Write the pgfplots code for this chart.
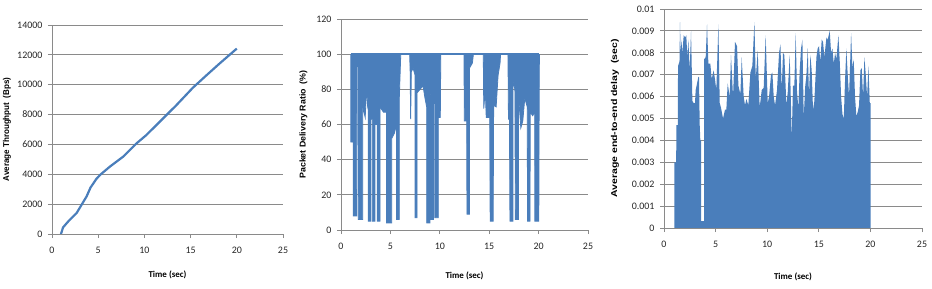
\documentclass[border=0pt]{standalone}
\usepackage{fontspec}
\setmainfont{Carlito}
\newfontfamily\labfont{Liberation Sans}
\usepackage{graphicx}
\usepackage{pgfplots}
\pgfplotsset{compat=1.18}
\definecolor{xlblue}{HTML}{4A7EBB}
\definecolor{gridgray}{HTML}{8A8A8A}
\pgfplotsset{
 xlstyle/.style={
  scale only axis,
  anchor=south west,
  axis x line*=bottom, axis y line*=left,
  axis line style={draw=gridgray, line width=0.8pt, -},
  ymajorgrids, major grid style={draw=gridgray, line width=0.8pt},
  tick style={draw=gridgray, line width=0.8pt},
  tick align=outside, major tick length=4bp,
  xmin=0, xmax=25, xtick={0,5,...,25},
  scaled y ticks=false, scaled x ticks=false,
  ticklabel style={font=\fontsize{10}{11}\selectfont, text=black!85},
  /pgf/number format/assume math mode=true,
  /pgf/number format/1000 sep={},
  xticklabel style={yshift=-6bp},
  yticklabel style={xshift=-2bp},
  xlabel={\bfseries\fontsize{9}{10}\selectfont Time (sec)},
  xlabel style={at={(axis description cs:0.5,0)}, anchor=center},
 }
}
\begin{document}
\begin{tikzpicture}
\path[use as bounding box] (0,0) rectangle (932bp,289bp);
% Panel 1
\begin{axis}[xlstyle, at={(52bp,55bp)}, width=231bp, height=209bp,
  ymin=0, ymax=14000, ytick={0,2000,...,14000},
  xlabel style={yshift=-41bp},
  ylabel={\scalebox{0.95}[1]{\labfont\bfseries\fontsize{8.5}{10}\selectfont Average Throughput\ \ (Bps)}},
  ylabel style={at={(axis description cs:-0.195,0.5)}, anchor=center}]
\addplot[xlblue, line width=2.2bp] coordinates {
(0.97,0) (1.2,444) (1.76,844) (2.66,1400) (3.2,1955) (3.74,2511) (4.17,3111) (4.8,3689) (5.2,3955) (6.26,4511) (7.7,5178) (9.14,6067) (10.2,6622) (11.65,7511) (13.45,8622) (15.25,9800) (16.7,10622) (18.1,11400) (20.0,12420)
};
\end{axis}
% Panel 2
\begin{axis}[xlstyle, at={(341bp,59bp)}, width=247bp, height=211bp,
  ymin=0, ymax=120, ytick={0,20,...,120},
  xlabel style={yshift=-46bp},
  ylabel={\scalebox{1.04}[1]{\labfont\bfseries\fontsize{8.5}{10}\selectfont Packet Delivery Ratio\ \ (\%)}},
  ylabel style={at={(axis description cs:-0.152,0.5)}, anchor=center}]
\addplot[fill=xlblue, draw=xlblue, line width=0.8bp] coordinates {
(1.0,100) (1.0,50) (1.25,50) (1.25,8) (1.58,8) (1.6,93) (1.72,93) (1.75,6) (2.2,6) (2.2,70) (2.45,64) (2.6,82) (2.7,70) (2.77,68) (2.77,5) (3.0,5) (3.0,63) (3.17,63) (3.17,5) (3.44,5) (3.44,60) (3.68,60) (3.68,5) (3.95,5) (3.95,70) (4.3,67) (4.62,67) (4.62,4) (5.13,4) (5.13,52) (5.4,55) (5.63,60) (5.63,6) (5.9,6) (5.9,75) (6.0,92) (6.05,100)
(6.95,100) (7.0,90) (7.05,63) (7.12,90) (7.3,92) (7.5,88) (7.5,7) (7.7,7) (7.7,78) (8.0,80) (8.3,82) (8.5,75) (8.67,70) (8.67,4) (9.0,4) (9.0,78) (9.1,75) (9.1,6) (9.35,6) (9.35,72) (9.5,72) (9.5,7) (9.85,7) (9.85,64) (10.05,64) (10.1,100)
(12.45,100) (12.48,62) (12.72,62) (12.75,9) (13.0,9) (13.0,92) (13.3,95) (13.4,100)
(14.4,100) (14.45,69) (14.6,80) (14.7,64) (15.05,64) (15.1,5) (15.4,5) (15.45,71) (15.7,70) (15.9,88) (16.1,95) (16.15,100)
(16.9,100) (16.95,63) (17.05,63) (17.1,5) (17.4,5) (17.4,85) (17.6,80) (17.65,6) (17.95,6) (17.95,78) (18.2,58) (18.4,62) (18.6,75) (18.85,70) (18.88,5) (19.13,5) (19.15,67) (19.4,65) (19.6,67) (19.62,5) (20.02,5) (20.05,62) (20.08,100)
};
\addplot[xlblue, line width=1.6bp] coordinates {(1.0,100) (20.08,100)};
\end{axis}
% Panel 3
\begin{axis}[xlstyle, at={(664bp,61bp)}, width=258bp, height=219bp,
  ymin=0, ymax=0.01, ytick={0,0.001,0.002,0.003,0.004,0.005,0.006,0.007,0.008,0.009,0.01},
  yticklabels={0,0.001,0.002,0.003,0.004,0.005,0.006,0.007,0.008,0.009,0.01},
  xlabel style={yshift=-49bp},
  ylabel={\scalebox{1.24}[1]{\labfont\bfseries\fontsize{8.5}{10}\selectfont Average end-to-end delay\ \ (sec)}},
  ylabel style={at={(axis description cs:-0.19,0.5)}, anchor=center}]
\addplot[fill=xlblue, draw=none] coordinates {
(1.0,0) (1.0,0.0030) (1.18,0.0030) (1.2,0.0047) (1.34,0.0047) (1.36,0.0074) (1.5,0.0076) (1.55,0.0094) (1.62,0.0078) (1.68,0.0086) (1.78,0.0080) (1.91,0.0088) (2.05,0.0087) (2.16,0.0088) (2.26,0.0078) (2.36,0.0086) (2.49,0.0072) (2.62,0.0090) (2.75,0.0058) (2.88,0.0057) (3.0,0.0057) (3.07,0.0063) (3.2,0.0066) (3.33,0.0069) (3.39,0.0069) (3.46,0.0047) (3.52,0.0040) (3.59,0.0040) (3.59,0)
};
\addplot[fill=xlblue, draw=none] coordinates {
(3.59,0) (3.59,0.0003) (3.88,0.0003) (3.88,0)
};
\addplot[fill=xlblue, draw=none] coordinates {
(3.88,0) (3.88,0.0077) (4.04,0.0078) (4.17,0.0093) (4.3,0.0075) (4.49,0.0075) (4.62,0.0068) (4.81,0.0072) (4.94,0.0068) (5.07,0.0063) (5.27,0.0093) (5.4,0.0057) (5.52,0.0055) (5.72,0.0050) (5.91,0.0054) (6.04,0.0054) (6.17,0.0066) (6.37,0.0060) (6.49,0.0079) (6.69,0.0060) (6.88,0.0085) (7.08,0.0083) (7.21,0.0065) (7.4,0.0061) (7.53,0.0078) (7.72,0.0060) (7.85,0.0056) (7.98,0.0059) (8.17,0.0056) (8.37,0.0071) (8.56,0.0074) (8.76,0.0094) (8.89,0.0068) (9.08,0.0081) (9.27,0.0055) (9.47,0.0063) (9.66,0.0064) (9.85,0.0088) (10.05,0.0057) (10.18,0.0060) (10.37,0.0070) (10.5,0.0071) (10.63,0.0060) (10.76,0.0056) (10.95,0.0063) (11.15,0.0080) (11.28,0.0084) (11.41,0.0063) (11.53,0.0080) (11.66,0.0079) (11.86,0.0056) (11.99,0.0062) (12.18,0.0079) (12.31,0.0055) (12.37,0.0040) (12.5,0.0065) (12.63,0.0065) (12.76,0.0089) (12.89,0.0062) (13.02,0.0055) (13.15,0.0072) (13.28,0.0082) (13.41,0.0086) (13.54,0.0050) (13.67,0.0064) (13.8,0.0070) (13.93,0.0082) (14.05,0.0060) (14.18,0.0079) (14.31,0.0072) (14.44,0.0054) (14.57,0.0058) (14.77,0.0078) (14.89,0.0082) (15.02,0.0083) (15.15,0.0076) (15.28,0.0086) (15.41,0.0085) (15.54,0.0078) (15.74,0.0087) (15.86,0.0086) (16.06,0.0090) (16.19,0.0080) (16.32,0.0082) (16.45,0.0075) (16.58,0.0080) (16.7,0.0077) (16.9,0.0088) (17.03,0.0076) (17.16,0.0060) (17.29,0.0052) (17.42,0.0050) (17.54,0.0067) (17.67,0.0082) (17.8,0.0070) (17.93,0.0060) (18.13,0.0089) (18.26,0.0073) (18.38,0.0077) (18.51,0.0060) (18.64,0.0051) (18.77,0.0053) (18.9,0.0056) (19.03,0.0072) (19.16,0.0073) (19.29,0.0060) (19.42,0.0078) (19.55,0.0070) (19.68,0.0060) (19.81,0.0074) (19.94,0.0057) (20.03,0.0057) (20.03,0)
};
\end{axis}
\end{tikzpicture}
\end{document}
